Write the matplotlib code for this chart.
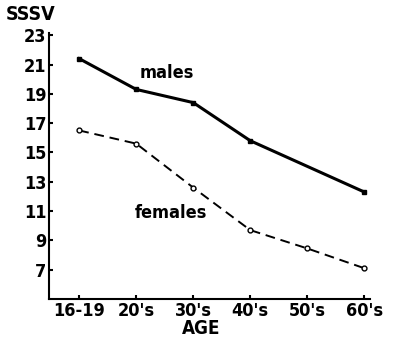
import numpy as np
import matplotlib.pyplot as plt

# 연령대 / SSSV 값
age_labels = ["16-19", "20's", "30's", "40's", "50's", "60's"]
males = [21.4, 19.3, 18.4, 15.8, 14.05, 12.3]
females = [16.5, 15.6, 12.6, 9.7, 8.45, 7.1]
y_ticks = [7, 9, 11, 13, 15, 17, 19, 21, 23]

plt.rcParams['font.family'] = ['DejaVu Sans']
plt.rcParams['font.stretch'] = 'condensed'
plt.rcParams['font.weight'] = 'bold'

fig = plt.figure(figsize=(3.93, 3.40), dpi=100)
ax = fig.add_axes([49 / 393, 41 / 340, 321 / 393, 266 / 340])

x = np.arange(len(age_labels))
ax.plot(x, males, '-', color='black', linewidth=2.2)
ax.plot(x[[0, 1, 2, 3, 5]], np.array(males)[[0, 1, 2, 3, 5]], 's',
        color='black', markersize=2.5)
ax.plot(x, females, '--', color='black', linewidth=1.4, dashes=(5, 3),
        marker='o', markersize=3.5, markerfacecolor='white',
        markeredgecolor='black', markeredgewidth=1)

ax.set_xlim(-0.53, 5.1)
ax.set_ylim(5, 23.15)
ax.set_xticks(x)
ax.set_xticklabels(age_labels)
ax.set_yticks(y_ticks)

for s in ['top', 'right']:
    ax.spines[s].set_visible(False)
for s in ['left', 'bottom']:
    ax.spines[s].set_linewidth(1.5)

ax.tick_params(direction='in', length=3, width=1.5, labelsize=13, pad=2)

ax.text(1.53, 20.4, 'males', fontsize=13, fontweight='bold', ha='center', va='center')
ax.text(1.6, 10.9, 'females', fontsize=13, fontweight='bold', ha='center', va='center')
fig.text(6 / 393, 1 - 14 / 340, 'SSSV', fontsize=14, fontweight='bold', va='center')
fig.text(201 / 393, 1 - 329 / 340, 'AGE', fontsize=13.5, fontweight='bold', ha='center', va='center')

fig.savefig('out.png', dpi=100)
